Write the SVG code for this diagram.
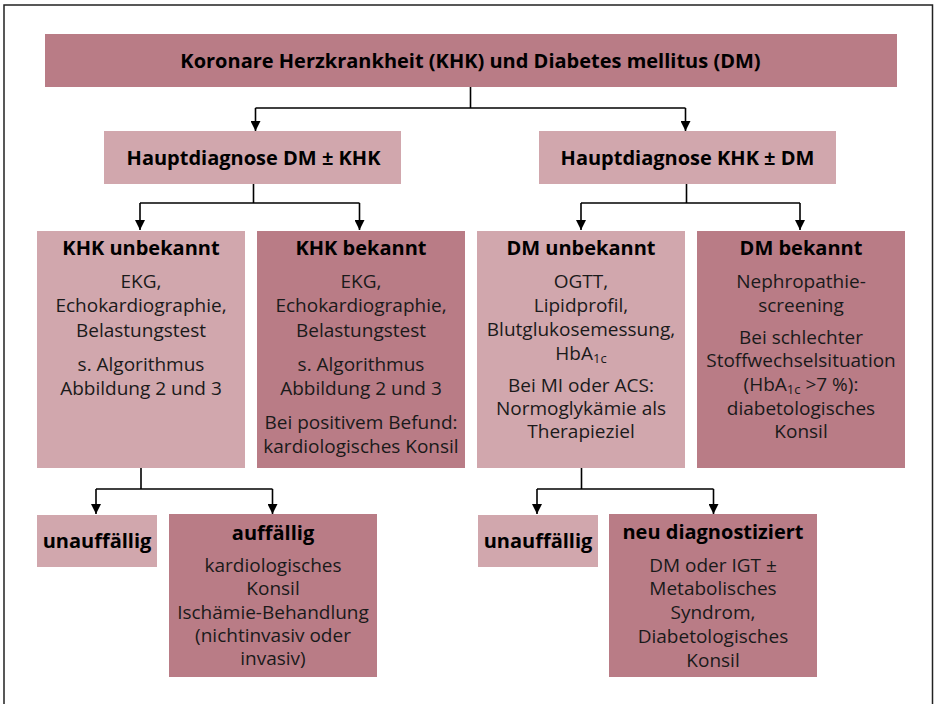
<svg xmlns="http://www.w3.org/2000/svg" width="936" height="704" viewBox="0 0 936 704">
<defs>
<marker id="ah" viewBox="0 0 10 10" refX="10" refY="5" markerWidth="10" markerHeight="10" markerUnits="userSpaceOnUse" orient="auto">
<path d="M0,0 L10,5 L0,10 z" fill="#000"/>
</marker>
<style>
.dark{fill:#b97c86}
.light{fill:#d1a7ad}
text{font-family:"Open Sans","Noto Sans","Liberation Sans",sans-serif;fill:#1a1a1a;text-anchor:middle}
.t{font-size:20px;font-weight:bold;fill:#000}
.r{font-size:19px}
.sub{font-size:13px}
.con{fill:none;stroke:#000;stroke-width:1.6}
</style>
</defs>
<rect width="936" height="704" fill="#fff"/>
<path d="M4,710 L4,5 L932.5,5 L932.5,710" fill="none" stroke="#222" stroke-width="1.5"/>

<g id="connectors">
<path class="con" d="M470.5,87 V108"/>
<path class="con" d="M255.5,108 H685.5"/>
<path class="con" d="M255.5,108 V131" marker-end="url(#ah)"/>
<path class="con" d="M685.5,108 V131" marker-end="url(#ah)"/>
<path class="con" d="M253.5,184 V203"/>
<path class="con" d="M140,203 H359.5"/>
<path class="con" d="M140,203 V230" marker-end="url(#ah)"/>
<path class="con" d="M359.5,203 V230" marker-end="url(#ah)"/>
<path class="con" d="M686.5,184 V203"/>
<path class="con" d="M581,203 H800"/>
<path class="con" d="M581,203 V230" marker-end="url(#ah)"/>
<path class="con" d="M800,203 V230" marker-end="url(#ah)"/>
<path class="con" d="M141,468 V489"/>
<path class="con" d="M96,489 H272.5"/>
<path class="con" d="M96,489 V514" marker-end="url(#ah)"/>
<path class="con" d="M272.5,489 V514" marker-end="url(#ah)"/>
<path class="con" d="M581.5,468 V489"/>
<path class="con" d="M537,489 H713.5"/>
<path class="con" d="M537,489 V514" marker-end="url(#ah)"/>
<path class="con" d="M713.5,489 V514" marker-end="url(#ah)"/>
</g>

<g id="title">
<rect class="dark" x="45" y="34" width="852" height="53"/>
<text class="t" x="470.5" y="68">Koronare Herzkrankheit (KHK) und Diabetes mellitus (DM)</text>
</g>

<g id="haupt-dm">
<rect class="light" x="104" y="131" width="297" height="53"/>
<text class="t" x="253.5" y="165">Hauptdiagnose DM ± KHK</text>
</g>

<g id="haupt-khk">
<rect class="light" x="539" y="131" width="297" height="53"/>
<text class="t" x="687.5" y="165">Hauptdiagnose KHK ± DM</text>
</g>

<g id="khk-unbekannt">
<rect class="light" x="37" y="231" width="208" height="237"/>
<text class="t" x="141" y="255">KHK unbekannt</text>
<text class="r" x="141" y="288">EKG,</text>
<text class="r" x="141" y="312">Echokardiographie,</text>
<text class="r" x="141" y="337">Belastungstest</text>
<text class="r" x="141" y="371">s. Algorithmus</text>
<text class="r" x="141" y="395">Abbildung 2 und 3</text>
</g>

<g id="khk-bekannt">
<rect class="dark" x="257" y="231" width="208" height="237"/>
<text class="t" x="361" y="255">KHK bekannt</text>
<text class="r" x="361" y="288">EKG,</text>
<text class="r" x="361" y="312">Echokardiographie,</text>
<text class="r" x="361" y="337">Belastungstest</text>
<text class="r" x="361" y="371">s. Algorithmus</text>
<text class="r" x="361" y="395">Abbildung 2 und 3</text>
<text class="r" x="361" y="429">Bei positivem Befund:</text>
<text class="r" x="361" y="453">kardiologisches Konsil</text>
</g>

<g id="dm-unbekannt">
<rect class="light" x="477" y="231" width="208" height="237"/>
<text class="t" x="581" y="255">DM unbekannt</text>
<text class="r" x="581" y="288">OGTT,</text>
<text class="r" x="581" y="312">Lipidprofil,</text>
<text class="r" x="581" y="336">Blutglukosemessung,</text>
<text class="r" x="581" y="360">HbA<tspan class="sub" dy="3">1c</tspan></text>
<text class="r" x="581" y="392">Bei MI oder ACS:</text>
<text class="r" x="581" y="415">Normoglykämie als</text>
<text class="r" x="581" y="438">Therapieziel</text>
</g>

<g id="dm-bekannt">
<rect class="dark" x="697" y="231" width="208" height="237"/>
<text class="t" x="801" y="255">DM bekannt</text>
<text class="r" x="801" y="288">Nephropathie-</text>
<text class="r" x="801" y="312">screening</text>
<text class="r" x="801" y="344">Bei schlechter</text>
<text class="r" x="801" y="367">Stoffwechselsituation</text>
<text class="r" x="801" y="391">(HbA<tspan class="sub" dy="3">1c</tspan><tspan dy="-3"> &gt;7 %):</tspan></text>
<text class="r" x="801" y="415">diabetologisches</text>
<text class="r" x="801" y="438">Konsil</text>
</g>

<g id="unauffaellig-1">
<rect class="light" x="37" y="515" width="120" height="52"/>
<text class="t" x="97" y="548">unauffällig</text>
</g>

<g id="auffaellig">
<rect class="dark" x="169" y="514" width="208" height="163"/>
<text class="t" x="273" y="540">auffällig</text>
<text class="r" x="273" y="572">kardiologisches</text>
<text class="r" x="273" y="595">Konsil</text>
<text class="r" x="273" y="619">Ischämie-Behandlung</text>
<text class="r" x="273" y="642">(nichtinvasiv oder</text>
<text class="r" x="273" y="665">invasiv)</text>
</g>

<g id="unauffaellig-2">
<rect class="light" x="478" y="515" width="120" height="52"/>
<text class="t" x="538" y="548">unauffällig</text>
</g>

<g id="neu-diagnostiziert">
<rect class="dark" x="609" y="514" width="208" height="163"/>
<text class="t" x="713" y="539">neu diagnostiziert</text>
<text class="r" x="713" y="572">DM oder IGT ±</text>
<text class="r" x="713" y="595">Metabolisches</text>
<text class="r" x="713" y="619">Syndrom,</text>
<text class="r" x="713" y="643">Diabetologisches</text>
<text class="r" x="713" y="667">Konsil</text>
</g>
</svg>
